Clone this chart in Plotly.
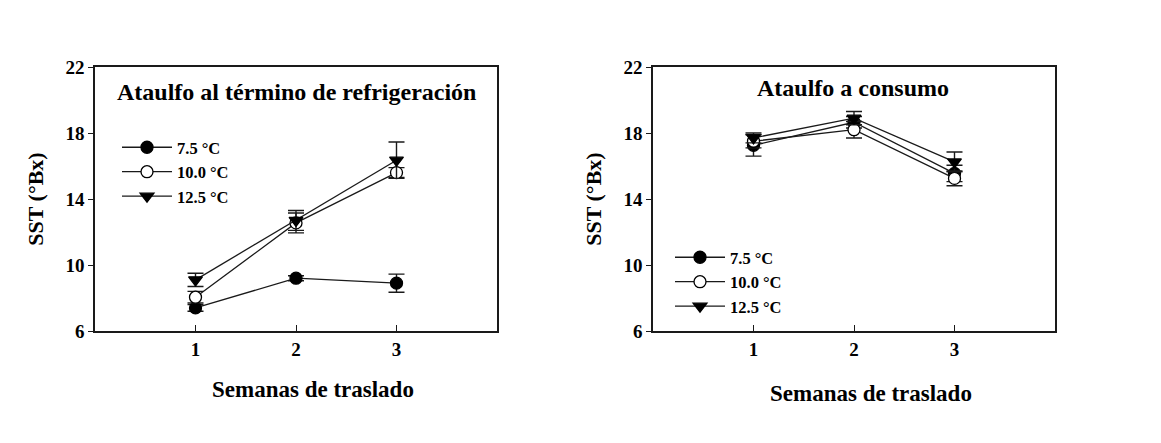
import plotly.graph_objects as go

weeks = [1, 2, 3]
series_names = ["7.5 °C", "10.0 °C", "12.5 °C"]

# Panel A: Ataulfo al término de refrigeración
a_75 = [7.4, 9.2, 8.9]
a_75_err = [0.2, 0.15, 0.55]
a_100 = [8.05, 12.55, 15.6]
a_100_err = [0.35, 0.6, 0.3]
a_125 = [9.1, 12.7, 16.35]
a_125_err = [0.4, 0.6, 1.1]

# Panel B: Ataulfo a consumo
b_75 = [17.25, 18.65, 15.55]
b_75_err = [0.65, 0.35, 0.5]
b_100 = [17.5, 18.2, 15.25]
b_100_err = [0.4, 0.5, 0.45]
b_125 = [17.7, 18.9, 16.25]
b_125_err = [0.3, 0.4, 0.6]

y_ticks = [6, 10, 14, 18, 22]
x_ticks = [1, 2, 3]
titles = ["Ataulfo al término de refrigeración", "Ataulfo a consumo"]
x_title = "Semanas de traslado"
y_title = "SST (°Bx)"

FONT = "Liberation Serif, Times New Roman, serif"
marker_styles = [
    dict(symbol="circle", color="black", size=12, line=dict(color="black", width=1.3)),
    dict(symbol="circle", color="white", size=12, line=dict(color="black", width=1.3)),
    dict(symbol="triangle-down", color="black", size=12, line=dict(color="black", width=1.3)),
]

fig = go.Figure()

panels = [
    ([a_75, a_100, a_125], [a_75_err, a_100_err, a_125_err], "x", "y", "legend"),
    ([b_75, b_100, b_125], [b_75_err, b_100_err, b_125_err], "x2", "y2", "legend2"),
]
for vals, errs, xa, ya, lg in panels:
    for name, v, e, ms in zip(series_names, vals, errs, marker_styles):
        fig.add_trace(go.Scatter(
            x=weeks, y=v, name=name, mode="lines+markers",
            line=dict(color="#1a1a1a", width=1.3),
            marker=ms,
            error_y=dict(type="data", array=e, visible=True, color="#1a1a1a", thickness=1.4, width=8),
            xaxis=xa, yaxis=ya, legend=lg, showlegend=True,
        ))

axis_common = dict(
    showgrid=False, zeroline=False, showline=True, linecolor="#1a1a1a", linewidth=1.6,
    mirror=True, automargin=False,
    tickfont=dict(family=FONT, size=19, color="black", weight="bold"),
)
xtitle_font = dict(family=FONT, size=23, weight="bold", color="black")
ytitle_font = dict(family=FONT, size=22, weight="bold", color="black")
legend_font = dict(family=FONT, size=16.5, weight="bold", color="black")
W, H = 1161, 443
ydom = [1 - 323 / H, 1 - 59 / H]
fig.update_layout(
    width=W, height=H,
    margin=dict(l=0, r=0, t=0, b=0),
    paper_bgcolor="white", plot_bgcolor="white",
    font=dict(family=FONT, color="black"),
    xaxis=dict(domain=[87 / W, 489 / W], range=[0, 4], tickvals=x_ticks, ticks="inside",
               ticklen=6, tickcolor="#1a1a1a", **axis_common),
    yaxis=dict(domain=ydom, range=[6, 22], tickvals=y_ticks, ticks="outside", ticklen=5,
               tickcolor="#1a1a1a",
               title=dict(text=y_title, font=ytitle_font, standoff=16),
               **axis_common),
    xaxis2=dict(domain=[645 / W, 1047 / W], range=[0, 4], tickvals=x_ticks, ticks="inside",
                ticklen=6, tickcolor="#1a1a1a", anchor="y2", **axis_common),
    yaxis2=dict(domain=ydom, range=[6, 22], tickvals=y_ticks, ticks="outside", ticklen=5,
                tickcolor="#1a1a1a", anchor="x2",
                title=dict(text=y_title, font=ytitle_font, standoff=16),
                **axis_common),
    legend=dict(x=109 / W, y=1 - 122 / H, xanchor="left", yanchor="top",
                bgcolor="rgba(0,0,0,0)", font=legend_font,
                tracegroupgap=0, itemwidth=50),
    legend2=dict(x=662 / W, y=1 - 232 / H, xanchor="left", yanchor="top",
                 bgcolor="rgba(0,0,0,0)", font=legend_font,
                 tracegroupgap=0, itemwidth=50),
    showlegend=True,
)

fig.add_annotation(text=titles[0], xref="paper", yref="paper", x=288 / W, y=1 - 84 / H,
                   xanchor="center", yanchor="middle",
                   showarrow=False, font=dict(family=FONT, size=24, weight="bold", color="black"))
fig.add_annotation(text=titles[1], xref="paper", yref="paper", x=845 / W, y=1 - 80 / H,
                   xanchor="center", yanchor="middle",
                   showarrow=False, font=dict(family=FONT, size=24, weight="bold", color="black"))
fig.add_annotation(text=x_title, xref="paper", yref="paper", x=305 / W, y=1 - 381 / H,
                   xanchor="center", yanchor="middle",
                   showarrow=False, font=xtitle_font)
fig.add_annotation(text=x_title, xref="paper", yref="paper", x=863 / W, y=1 - 385 / H,
                   xanchor="center", yanchor="middle",
                   showarrow=False, font=xtitle_font)

fig.write_html("out.html")
